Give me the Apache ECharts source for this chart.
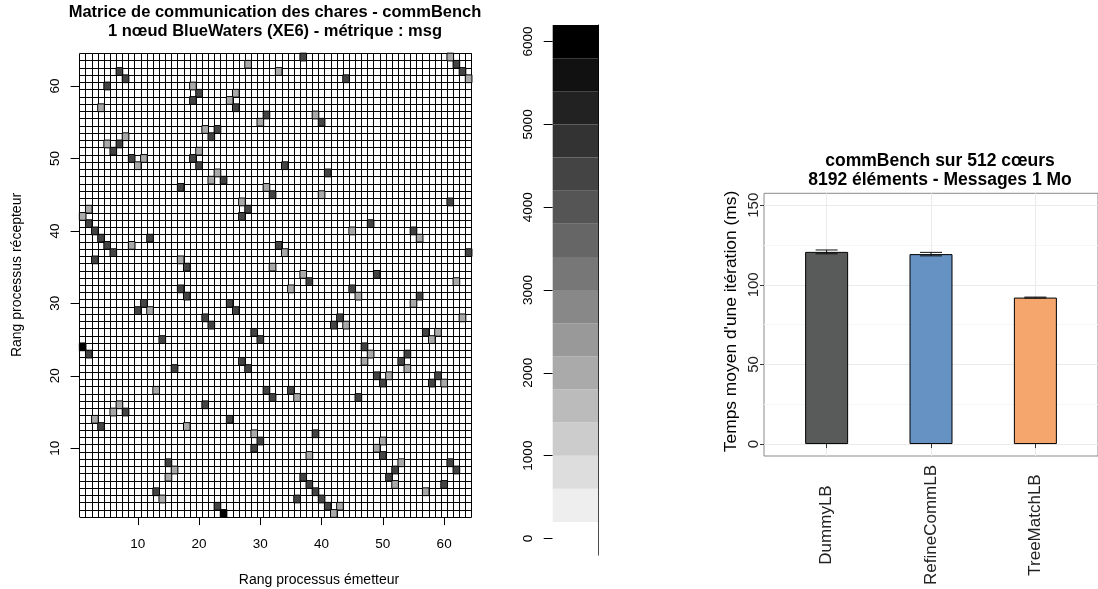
<!DOCTYPE html>
<html>
<head>
<meta charset="utf-8">
<script src="https://cdn.jsdelivr.net/npm/echarts@6/dist/echarts.min.js"></script>
<style>
html,body{margin:0;padding:0;background:#fff;}
#c{width:1098px;height:589px;}
</style>
</head>
<body>
<div id="c"></div>
<script>
// ---------- DATA ----------
const ranks = Array.from({length: 64}, (_, i) => String(i + 1));
const rankTicks = [10, 20, 30, 40, 50, 60];

// [rang émetteur, rang récepteur, msg]
const msgCells = [
  [1,24,6100],[24,1,6100],
  [7,62,4400],[62,7,4400],[8,61,4400],[61,8,4400],[5,60,4400],[60,5,4400],
  [20,59,4400],[59,20,4400],[19,58,4400],[58,19,4400],[26,57,4400],[57,26,4400],
  [31,56,4400],[56,31,4400],[23,54,4400],[54,23,4400],[22,53,4400],[53,22,4400],
  [7,52,4400],[52,7,4400],[6,51,4400],[51,6,4400],[9,50,4400],[50,9,4400],
  [19,50,4400],[50,19,4400],[20,49,4400],[49,20,4400],[34,49,4400],[49,34,4400],
  [24,47,4400],[47,24,4400],[17,46,4400],[46,17,4400],[32,45,4400],[45,32,4400],
  [28,43,4400],[43,28,4400],[27,42,4400],[42,27,4400],[2,41,4400],[41,2,4400],
  [3,40,4400],[40,3,4400],[4,39,4400],[39,4,4400],[12,39,4400],[39,12,4400],
  [5,38,4400],[38,5,4400],[33,38,4400],[38,33,4400],[6,37,4400],[37,6,4400],
  [3,36,4400],[36,3,4400],[18,35,4400],[35,18,4400],[37,64,4400],[64,37,4400],
  [62,63,4400],[63,62,4400],[44,61,4400],[61,44,4400],[40,55,4400],[55,40,4400],
  [41,48,4400],[48,41,4400],[17,32,4400],[32,17,4400],[18,31,4400],[31,18,4400],
  [11,30,4400],[30,11,4400],[25,30,4400],[30,25,4400],[10,29,4400],[29,10,4400],
  [26,29,4400],[29,26,4400],[21,28,4400],[28,21,4400],[22,27,4400],[27,22,4400],
  [14,25,4400],[25,14,4400],[2,23,4400],[23,2,4400],[16,21,4400],[21,16,4400],
  [8,15,4400],[15,8,4400],[4,13,4400],[13,4,4400],
  [28,63,2000],[63,28,2000],[33,62,2000],[62,33,2000],[19,60,2000],[60,19,2000],
  [26,59,2000],[59,26,2000],[25,58,2000],[58,25,2000],[4,57,2000],[57,4,2000],
  [30,55,2000],[55,30,2000],[21,54,2000],[54,21,2000],[8,53,2000],[53,8,2000],
  [5,52,2000],[52,5,2000],[20,51,2000],[51,20,2000],[11,50,2000],[50,11,2000],
  [10,49,2000],[49,10,2000],[23,48,2000],[48,23,2000],[22,47,2000],[47,22,2000],
  [31,46,2000],[46,31,2000],[27,44,2000],[44,27,2000],[2,43,2000],[43,2,2000],
  [1,42,2000],[42,1,2000],[9,38,2000],[38,9,2000],[34,37,2000],[37,34,2000],
  [17,36,2000],[36,17,2000],[32,35,2000],[35,32,2000],[61,64,2000],[64,61,2000],
  [39,56,2000],[56,39,2000],[40,45,2000],[45,40,2000],[12,29,2000],[29,12,2000],
  [13,18,2000],[18,13,2000],[7,16,2000],[16,7,2000],[6,15,2000],[15,6,2000],
  [3,14,2000],[14,3,2000]
];

const scaleEdges = [-200,200,600,1000,1400,1800,2200,2600,3000,3400,3800,4200,4600,5000,5400,5800,6200];
const scaleColors = ['#ffffff','#eeeeee','#dddddd','#cccccc','#bbbbbb','#aaaaaa','#999999','#888888',
                     '#777777','#666666','#555555','#444444','#333333','#222222','#111111','#000000'];
const scaleTicks = [0,1000,2000,3000,4000,5000,6000];

const methods = ['DummyLB','RefineCommLB','TreeMatchLB'];
const meanTime = [120.7, 119.3, 92.0];
const timeLow  = [119.5, 118.2, 91.7];
const timeHigh = [121.9, 120.4, 92.3];
const timeTicks = [0,50,100,150];
const timeMinorTicks = [25,75,125];
const barColors = ['#595b5a','#6691c3','#f4a66c'];

// ---------- CHART ----------
const FONT = '"Liberation Sans", Arial, Helvetica, sans-serif';
const chart = echarts.init(document.getElementById('c'));
const isRankTick = (i) => rankTicks.indexOf(i + 1) >= 0;

const heatData = msgCells.map(c => [c[0] - 1, c[1] - 1, c[2]]);
const bands = scaleColors.map((col, i) => [0, scaleEdges[i], scaleEdges[i + 1]]);
const pos = methods.map((m, i) => i + 1);

function txt(x, y, text, size, bold, rot) {
  return {
    type: 'text', x: x, y: y, rotation: rot ? Math.PI / 2 : 0, silent: true,
    style: {
      text: text, fill: '#000', fontFamily: FONT, fontSize: size,
      fontWeight: bold ? 'bold' : 'normal',
      align: 'center', verticalAlign: 'middle',
      textAlign: 'center', textVerticalAlign: 'middle'
    }
  };
}

const option = {
  animation: false,
  backgroundColor: '#ffffff',
  textStyle: {fontFamily: FONT},
  grid: [
    {left: 79.6, top: 53.4, width: 392.1, height: 463.7},
    {left: 552.7, top: 25, width: 45.6, height: 530},
    {left: 764, top: 193.3, width: 342.7, height: 262.7, show: true,
     borderColor: '#8a8a8a', borderWidth: 1, backgroundColor: 'transparent'}
  ],
  visualMap: {
    type: 'piecewise', show: false, seriesIndex: 0, dimension: 2,
    pieces: scaleColors.map((col, i) => ({gte: scaleEdges[i], lt: scaleEdges[i + 1], color: col}))
  },
  xAxis: [
    {gridIndex: 0, type: 'category', data: ranks,
     axisLine: {show: false},
     axisTick: {show: true, interval: (i) => isRankTick(i), alignWithLabel: true, length: 8, lineStyle: {color: '#000'}},
     axisLabel: {interval: (i) => isRankTick(i), fontSize: 13.5, color: '#000', margin: 27, verticalAlign: 'middle'},
     splitLine: {show: true, interval: 0, lineStyle: {color: '#000', width: 1}}},
    {gridIndex: 1, type: 'category', data: ['échelle'], show: false},
    {gridIndex: 2, type: 'value', min: 0.4, max: 3.6,
     axisLine: {show: false},
     axisTick: {show: true, customValues: pos, length: 4, lineStyle: {color: '#333'}},
     axisLabel: {customValues: pos, formatter: (v) => methods[Math.round(v) - 1], rotate: 90,
                 align: 'center', verticalAlign: 'middle', margin: 69, fontSize: 17, color: '#222'},
     splitLine: {show: true, lineStyle: {color: '#ebebeb', width: 1}}}
  ],
  yAxis: [
    {gridIndex: 0, type: 'category', data: ranks,
     axisLine: {show: false},
     axisTick: {show: true, interval: (i) => isRankTick(i), alignWithLabel: true, length: 9, lineStyle: {color: '#000'}},
     axisLabel: {interval: (i) => isRankTick(i), rotate: 90, align: 'center', verticalAlign: 'middle',
                 margin: 24, fontSize: 13.5, color: '#000'},
     splitLine: {show: true, interval: 0, lineStyle: {color: '#000', width: 1}}},
    {gridIndex: 1, type: 'value', position: 'left', min: scaleEdges[0], max: scaleEdges[scaleEdges.length - 1],
     axisLine: {show: false},
     axisTick: {show: true, customValues: scaleTicks, length: 9, lineStyle: {color: '#000'}},
     axisLabel: {customValues: scaleTicks, formatter: (v) => String(v), rotate: 90, align: 'center',
                 verticalAlign: 'middle', margin: 24, fontSize: 13.5, color: '#000'},
     splitLine: {show: false}},
    {gridIndex: 1, type: 'value', position: 'right', min: scaleEdges[0], max: scaleEdges[scaleEdges.length - 1],
     axisLine: {show: true, lineStyle: {color: '#000', width: 1}},
     axisTick: {show: false}, axisLabel: {show: false}, splitLine: {show: false}},
    {gridIndex: 2, type: 'value', position: 'left', min: -7.5, max: 157.5,
     axisLine: {show: false},
     axisTick: {show: true, customValues: timeTicks, length: 4, lineStyle: {color: '#333'}},
     axisLabel: {customValues: timeTicks, formatter: (v) => String(v), rotate: 90, align: 'center',
                 verticalAlign: 'middle', margin: 10, fontSize: 15, color: '#222'},
     splitLine: {show: true, lineStyle: {color: '#ebebeb', width: 1}}},
    {gridIndex: 2, type: 'value', position: 'right', min: -7.5, max: 157.5,
     axisLine: {show: false},
     axisTick: {show: false, customValues: timeMinorTicks},
     axisLabel: {show: false, customValues: timeMinorTicks},
     splitLine: {show: true, lineStyle: {color: '#f6f6f6', width: 1}}}
  ],
  series: [
    {type: 'heatmap', xAxisIndex: 0, yAxisIndex: 0, data: heatData,
     itemStyle: {borderColor: '#000', borderWidth: 1}, emphasis: {disabled: true}},
    {type: 'custom', xAxisIndex: 1, yAxisIndex: 1, data: bands, silent: true,
     encode: {x: 0, y: [1, 2]},
     renderItem: function (params, api) {
       const cs = params.coordSys;
       const top = api.coord([0, api.value(2)])[1];
       const bot = api.coord([0, api.value(1)])[1];
       return {type: 'rect', shape: {x: cs.x, y: top, width: cs.width, height: bot - top},
               style: {fill: scaleColors[params.dataIndex]}};
     }},
    {type: 'bar', xAxisIndex: 2, yAxisIndex: 3, barWidth: 43,
     data: methods.map((m, i) => ({value: [pos[i], meanTime[i]], itemStyle: {color: barColors[i]}})),
     itemStyle: {borderColor: '#000', borderWidth: 1}},
    {type: 'custom', xAxisIndex: 2, yAxisIndex: 3, silent: true, z: 5,
     data: methods.map((m, i) => [pos[i], timeLow[i], timeHigh[i]]),
     encode: {x: 0, y: [1, 2]},
     renderItem: function (params, api) {
       const lo = api.coord([api.value(0), api.value(1)]);
       const hi = api.coord([api.value(0), api.value(2)]);
       const hw = 11;
       const st = {stroke: '#111', lineWidth: 1};
       return {type: 'group', children: [
         {type: 'line', shape: {x1: lo[0], y1: lo[1], x2: hi[0], y2: hi[1]}, style: st},
         {type: 'line', shape: {x1: lo[0] - hw, y1: lo[1], x2: lo[0] + hw, y2: lo[1]}, style: st},
         {type: 'line', shape: {x1: hi[0] - hw, y1: hi[1], x2: hi[0] + hw, y2: hi[1]}, style: st}
       ]};
     }}
  ],
  graphic: [
    txt(275, 12, 'Matrice de communication des chares - commBench', 16.5, true),
    txt(275, 31, '1 nœud BlueWaters (XE6) - métrique : msg', 16.5, true),
    txt(319, 580, 'Rang processus émetteur', 14, false),
    txt(17, 275, 'Rang processus récepteur', 14, false, true),
    txt(940, 161, 'commBench sur 512 cœurs', 17.5, true),
    txt(940, 180, '8192 éléments - Messages 1 Mo', 17.5, true),
    txt(731, 321.5, "Temps moyen d'une itération (ms)", 17.4, false, true)
  ]
};
chart.setOption(option);
</script>
</body>
</html>
